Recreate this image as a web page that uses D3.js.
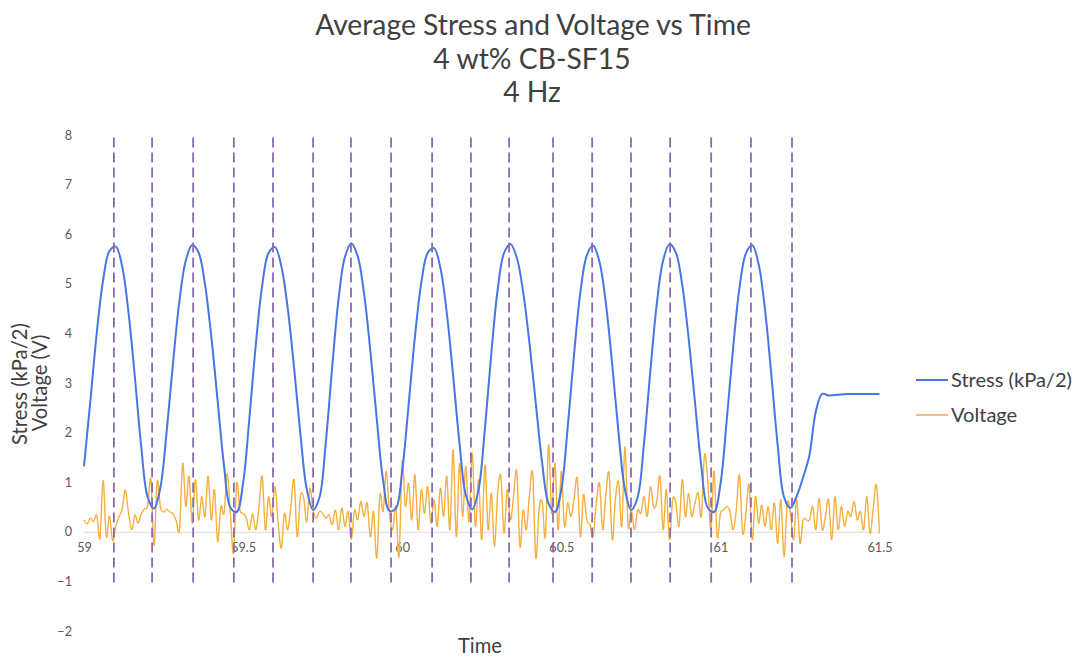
<!DOCTYPE html>
<html>
<head>
<meta charset="utf-8">
<script src="https://cdn.jsdelivr.net/npm/d3@7"></script>
<style>
  html, body { margin: 0; padding: 0; background: #ffffff; }
  svg { display: block; font-family: Lato, "Open Sans", sans-serif; }
</style>
</head>
<body>
<svg id="chart" width="1076" height="658"></svg>
<script>
// ---- chart content ----
const titleLines = ["Average Stress and Voltage vs Time", "4 wt% CB-SF15", "4 Hz"];
const yAxisTitle = ["Stress (kPa/2)", "Voltage (V)"];
const xAxisTitle = "Time";
const seriesNames = ["Stress (kPa/2)", "Voltage"];

const yTicks = [-2, -1, 0, 1, 2, 3, 4, 5, 6, 7, 8];
const xTicks = [59, 59.5, 60, 60.5, 61, 61.5];

// averaged stress, sampled every 0.02 s from t = 59 s
const stressStart = 59;
const stressStep = 0.02;
const stress = [
  1.32, 2.64, 4.00, 5.07, 5.66, 5.75, 5.35, 4.41, 3.11, 1.71,
  0.70, 0.47, 0.89, 2.04, 3.42, 4.66, 5.47, 5.78, 5.63, 5.00,
  3.94, 2.64, 1.34, 0.49, 0.40, 0.98, 2.31, 3.78, 4.97, 5.62,
  5.74, 5.36, 4.52, 3.32, 1.98, 0.86, 0.44, 0.69, 1.81, 3.32,
  4.69, 5.54, 5.81, 5.56, 4.81, 3.64, 2.28, 1.04, 0.42, 0.47,
  1.23, 2.55, 3.93, 5.02, 5.62, 5.72, 5.32, 4.42, 3.15, 1.79,
  0.74, 0.45, 0.85, 2.08, 3.59, 4.88, 5.62, 5.80, 5.53, 4.84,
  3.80, 2.58, 1.38, 0.57, 0.40, 0.85, 2.10, 3.57, 4.83, 5.57,
  5.77, 5.44, 4.61, 3.37, 1.99, 0.85, 0.44, 0.70, 1.79, 3.25,
  4.59, 5.47, 5.80, 5.63, 4.98, 3.91, 2.62, 1.32, 0.49, 0.40,
  0.95, 2.26, 3.71, 4.92, 5.61, 5.78, 5.40, 4.49, 3.17, 1.75,
  0.70, 0.48, 0.72, 1.10, 1.55, 2.43, 2.78, 2.75, 2.76, 2.77,
  2.78, 2.78, 2.78, 2.78, 2.78, 2.78
];

// measured voltage, sampled every 0.01 s from t = 59 s
const voltageStart = 59;
const voltageStep = 0.01;
const voltage = [
  0.24, 0.16, 0.28, 0.20, 0.34, -0.13, 1.04, -0.10, 0.32, -0.18,
  0.12, 0.30, 0.46, 0.84, 0.38, 0.04, 0.34, 0.17, 0.37, 0.46,
  0.52, 1.06, -0.28, 1.02, 0.50, 0.40, 0.45, 0.40, 0.36, 0.22,
  0.04, 1.38, 0.51, 1.12, 0.17, 1.05, 0.24, 0.71, 0.31, 1.12,
  0.24, 0.85, -0.20, 0.51, 0.37, 1.18, 0.37, -0.43, 0.98, 0.44,
  0.37, 0.28, 0.04, 0.37, 0.04, 0.50, 1.12, 0.04, 0.71, 0.31,
  0.91, 0.20, -0.33, 0.37, 0.04, 0.50, 1.05, -0.10, 0.71, 0.70,
  0.20, 0.88, 0.44, 0.27, 0.41, 0.37, 0.27, 0.34, 0.14, 0.44,
  0.04, 0.48, 0.11, 0.41, -0.16, 0.44, 0.24, 0.61, 0.31, 0.58,
  -0.10, 0.41, -0.53, 0.75, 0.41, 1.22, 0.37, 0.04, 0.51, -0.50,
  1.42, 0.51, 0.98, 0.24, 1.15, 0.04, 0.85, 0.37, 0.91, 0.17,
  0.65, 0.11, 0.88, 0.31, 1.12, 0.04, 1.65, -0.10, 1.38, 0.31,
  1.32, 0.20, 1.59, 0.11, 1.05, -0.16, 1.35, 0.04, 0.78, -0.30,
  0.78, 1.12, -0.03, 0.85, 0.24, 0.71, 1.22, -0.30, 0.44, 0.04,
  0.75, 1.18, -0.53, 0.44, 0.61, -0.10, 1.75, 0.37, 1.38, 0.04,
  1.22, 0.11, 0.58, 0.31, 0.65, 1.08, -0.10, 0.75, 0.24, 0.14,
  -0.10, 0.58, 0.98, 0.04, 0.75, 1.18, -0.16, 0.65, 1.01, 0.11,
  1.72, 0.11, 0.44, 0.04, 0.44, 0.37, 0.71, 0.31, 0.91, 0.50,
  0.60, 1.12, 0.04, 0.85, -0.16, 0.65, 0.58, 0.11, 1.05, 0.30,
  0.78, 0.31, 0.58, 0.78, 0.31, 1.55, 1.05, 0.04, 1.22, -0.10,
  0.37, 0.44, 0.51, 0.41, 0.04, 0.44, 1.15, -0.03, 0.37, 0.95,
  -0.16, 0.71, 0.17, 0.54, 0.11, 0.51, 0.04, 0.58, -0.23, 0.65,
  -0.50, 0.58, 0.37, -0.16, 0.65, -0.23, 0.24, 0.24, 0.24, 0.51,
  0.04, 0.68, 0.04, 0.31, 0.65, -0.16, 0.71, 0.04, 0.51, 0.11,
  0.41, 0.31, 0.61, 0.24, 0.41, 0.04, 0.71, -0.03, 0.44, 0.95,
  -0.03
];

// times of the stress peaks and troughs marked with dashed guides (s)
const markerTimes = [
  59.094, 59.214, 59.343, 59.471, 59.594, 59.720, 59.839, 59.965, 60.094,
  60.216, 60.336, 60.474, 60.597, 60.719, 60.842, 60.971, 61.096, 61.225
];
const markerSpan = [-1.05, 7.95];

// ---- drawing ----
const svg = d3.select("#chart");
const colors = { stress: "#4776e3", voltageBody: "#fcc85a", voltageEdge: "#ef8d24",
                 marker: "#8a6ab3", text: "#404040", tick: "#595959", zero: "#d9d9d9" };
const fontStack = "Lato, 'Open Sans', sans-serif";

const x = d3.scaleLinear().domain([59, 61.5]).range([84, 879.5]);
const y = d3.scaleLinear().domain([-2, 8]).range([631, 135]);

// scale a text element's font so it spans a given width
function fitWidth(sel, target) {
  const fs = parseFloat(sel.attr("font-size"));
  const w = sel.node().getComputedTextLength();
  const size = fs * target / w;
  sel.attr("font-size", size);
  return size;
}

// title
const titleG = svg.append("g").attr("fill", colors.text).attr("text-anchor", "middle");
const titleBase = [35, 69, 102];
const t0 = titleG.append("text").attr("x", 533).attr("y", titleBase[0])
  .attr("font-size", 24).text(titleLines[0]);
const titleSize = fitWidth(t0, 436);
titleLines.slice(1).forEach((s, i) => {
  titleG.append("text").attr("x", 532).attr("y", titleBase[i + 1])
    .attr("font-size", titleSize).text(s);
});

// y axis (labels only)
const yAxis = svg.append("g").attr("transform", "translate(76,0)")
  .call(d3.axisLeft(y).tickValues(yTicks).tickSize(0).tickPadding(4).tickFormat(d3.format("d")));
yAxis.select(".domain").remove();
yAxis.selectAll("text").attr("fill", colors.tick).style("font-family", fontStack);

// x axis sits on the zero line
const xAxis = svg.append("g").attr("transform", `translate(0,${y(0)})`)
  .call(d3.axisBottom(x).tickValues(xTicks).tickSizeInner(0).tickSizeOuter(0).tickPadding(11)
    .tickFormat(d => String(d)));
xAxis.select(".domain").attr("stroke", colors.zero).attr("stroke-width", 1);
xAxis.selectAll("text").attr("fill", colors.tick).style("font-family", fontStack);

// tick label size
const probe = xAxis.selectAll("text").filter(d => d === 61.5);
probe.attr("font-size", 13);
const tickSize = fitWidth(probe, 25);
yAxis.selectAll("text").attr("font-size", tickSize);
xAxis.selectAll("text").attr("font-size", tickSize);

// series
const voltageLine = d3.line()
  .x((d, i) => x(voltageStart + i * voltageStep))
  .y(d => y(d))
  .curve(d3.curveCatmullRom.alpha(0));
const stressLine = d3.line()
  .x((d, i) => x(stressStart + i * stressStep))
  .y(d => y(d))
  .curve(d3.curveCatmullRom.alpha(0.5));

svg.append("path").datum(voltage)
  .attr("d", voltageLine).attr("fill", "none")
  .attr("stroke", colors.voltageBody).attr("stroke-width", 1.4).attr("stroke-linejoin", "round");
svg.append("path").datum(voltage)
  .attr("d", voltageLine).attr("fill", "none")
  .attr("stroke", colors.voltageEdge).attr("stroke-width", 0.7).attr("stroke-opacity", 0.7)
  .attr("stroke-linejoin", "round");

svg.append("path").datum(stress)
  .attr("d", stressLine).attr("fill", "none")
  .attr("stroke", colors.stress).attr("stroke-width", 2).attr("stroke-linejoin", "round");

// dashed peak / trough guides
svg.append("g").selectAll("line").data(markerTimes).join("line")
  .attr("x1", d => x(d)).attr("x2", d => x(d))
  .attr("y1", y(markerSpan[1])).attr("y2", y(markerSpan[0]))
  .attr("stroke", colors.marker).attr("stroke-width", 1.8)
  .attr("stroke-dasharray", "10,5");

// axis titles
const yt = svg.append("g").attr("fill", colors.text).attr("text-anchor", "middle");
const yt1 = yt.append("text").attr("transform", "translate(20,384) rotate(-90)")
  .attr("dy", "0.35em").attr("font-size", 16).text(yAxisTitle[0]);
const ytSize = fitWidth(yt1, 122);
yt.append("text").attr("transform", "translate(40,383) rotate(-90)")
  .attr("dy", "0.35em").attr("font-size", ytSize).text(yAxisTitle[1]);

const xt = svg.append("text").attr("x", 480).attr("y", 653).attr("text-anchor", "middle")
  .attr("fill", colors.text).attr("font-size", ytSize).text(xAxisTitle);

// legend
const legend = svg.append("g");
const legendRows = [
  { name: seriesNames[0], color: colors.stress, width: 2, y: 380 },
  { name: seriesNames[1], color: colors.voltageEdge, width: 1.2, y: 415 }
];
legendRows.forEach(r => {
  legend.append("line").attr("x1", 916).attr("x2", 948).attr("y1", r.y).attr("y2", r.y)
    .attr("stroke", r.color).attr("stroke-width", r.width);
});
const lg0 = legend.append("text").attr("x", 951).attr("y", legendRows[0].y).attr("dy", "0.35em")
  .attr("fill", colors.text).attr("font-size", 16).text(legendRows[0].name);
const lgSize = fitWidth(lg0, 121);
legend.append("text").attr("x", 951).attr("y", legendRows[1].y).attr("dy", "0.35em")
  .attr("fill", colors.text).attr("font-size", lgSize).text(legendRows[1].name);
</script>
</body>
</html>
